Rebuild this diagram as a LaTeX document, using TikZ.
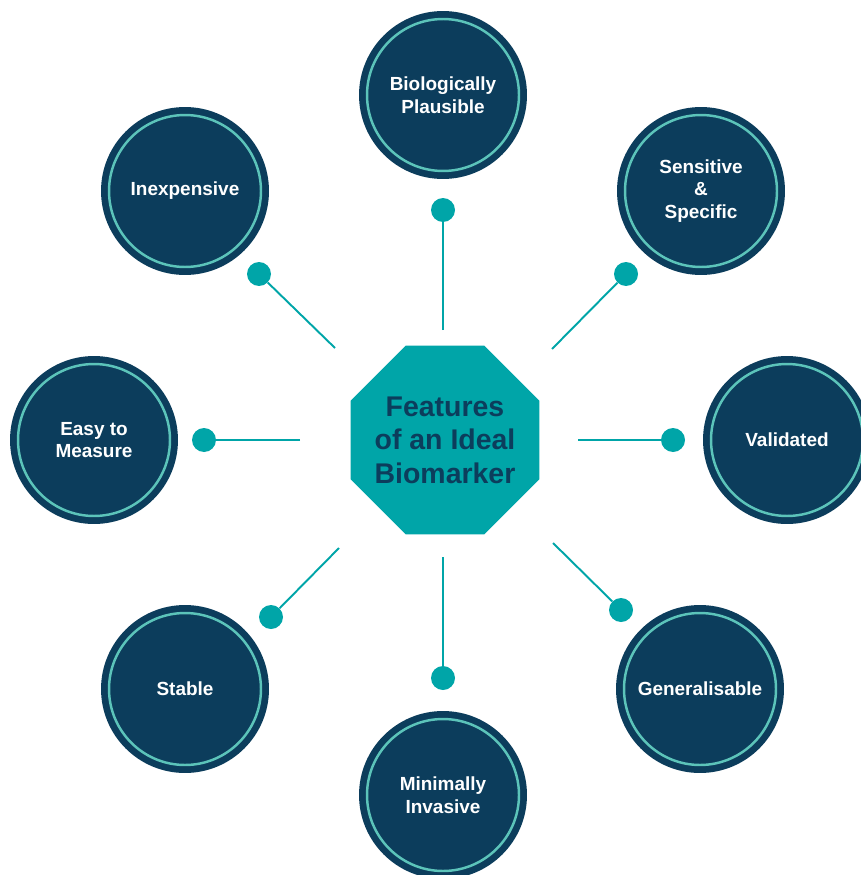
\documentclass[tikz,border=0pt]{standalone}
\usepackage{fontspec}
\setmainfont{Liberation Sans}
\usetikzlibrary{shapes.geometric}

\definecolor{navy}{RGB}{12,61,92}
\definecolor{hubteal}{RGB}{0,165,168}
\definecolor{ringteal}{RGB}{92,196,186}

\begin{document}
\begin{tikzpicture}[x=0.02cm, y=-0.02cm,
    feature/.style={circle, fill=navy, minimum size=3.36cm, inner sep=0pt,
      text=white, align=center, font=\fontsize{10.8}{13}\selectfont\bfseries,
      path picture={\draw[ringteal, line width=1.4pt]
        (path picture bounding box.center) circle (1.52cm);}},
    hub/.style={regular polygon, regular polygon sides=8, fill=hubteal,
      minimum size=4.09cm, inner sep=-0.3cm, outer sep=0pt, text=navy, align=center,
      font=\fontsize{16.2}{19}\selectfont\bfseries},
    knob/.style={circle, fill=hubteal, minimum size=0.48cm, inner sep=0pt},
    link/.style={hubteal, line width=1.1pt}]
  \clip (0,0) rectangle (861,875);

  % centre
  \node[hub] (H) at (445,440) {Features\\of an Ideal\\Biomarker};

  % features around it
  \node[feature] (bio) at (443,95) {Biologically\\Plausible};
  \node[feature] (sens) at (701,191) {Sensitive\\\&\\Specific};
  \node[feature] (val) at (787,440) {Validated};
  \node[feature] (gen) at (700,689) {Generalisable};
  \node[feature] (min) at (443,795) {Minimally\\Invasive};
  \node[feature] (stab) at (185,689) {Stable};
  \node[feature] (easy) at (94,440) {Easy to\\Measure};
  \node[feature] (cheap) at (185,191) {Inexpensive};

  % spokes start a little off the octagon
  \coordinate (sbio) at (443,330);
  \coordinate (ssens) at (552,349);
  \coordinate (sval) at (578,440);
  \coordinate (sgen) at (553,543);
  \coordinate (smin) at (443,557);
  \coordinate (sstab) at (339,548);
  \coordinate (seasy) at (300,440);
  \coordinate (scheap) at (335,348);

  % end knobs
  \node[knob] (kbio) at (443,210) {};
  \node[knob] (ksens) at (626,274) {};
  \node[knob] (kval) at (673,440) {};
  \node[knob] (kgen) at (621,610) {};
  \node[knob] (kmin) at (443,678) {};
  \node[knob] (kstab) at (271,617) {};
  \node[knob] (keasy) at (204,440) {};
  \node[knob] (kcheap) at (259,274) {};

  \draw[link] (sbio) -- (kbio);
  \draw[link] (ssens) -- (ksens);
  \draw[link] (sval) -- (kval);
  \draw[link] (sgen) -- (kgen);
  \draw[link] (smin) -- (kmin);
  \draw[link] (sstab) -- (kstab);
  \draw[link] (seasy) -- (keasy);
  \draw[link] (scheap) -- (kcheap);
\end{tikzpicture}
\end{document}
